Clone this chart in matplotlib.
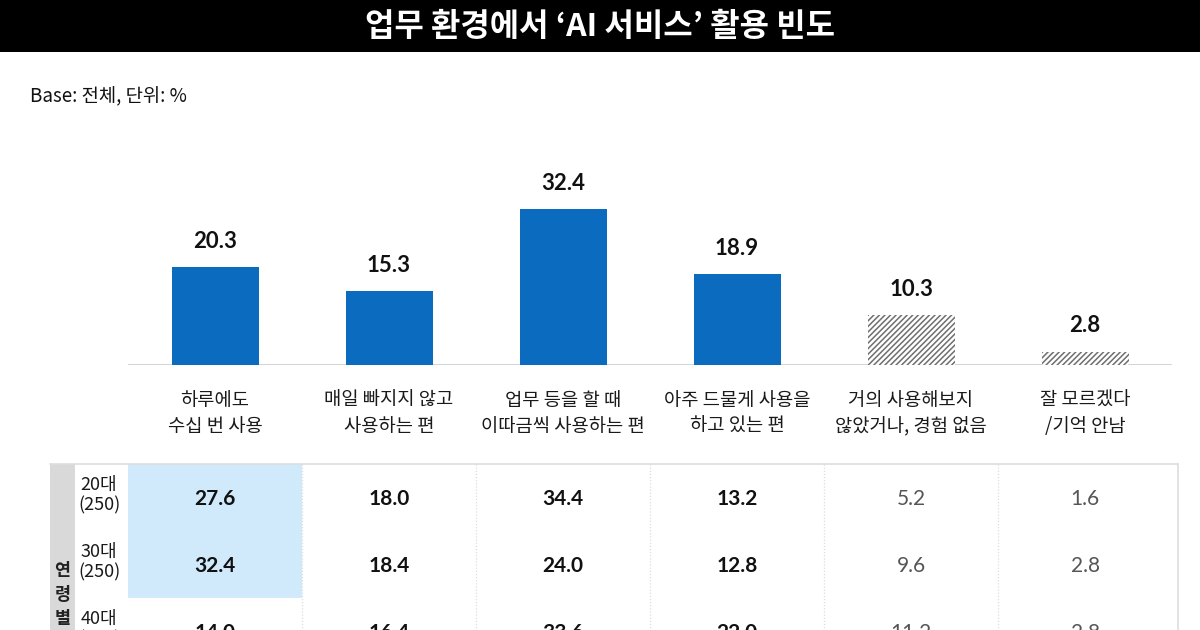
import matplotlib
matplotlib.use("Agg")
import matplotlib.pyplot as plt
import matplotlib.transforms as mtransforms
from matplotlib.patches import Rectangle

plt.rcParams['font.family'] = ['Noto Sans CJK KR', 'DejaVu Sans']
plt.rcParams['hatch.linewidth'] = 1.1

# ---------------- data ----------------
title = "업무 환경에서 ‘AI 서비스’ 활용 빈도"
subtitle = "Base: 전체, 단위: %"
categories = ["하루에도\n수십 번 사용", "매일 빠지지 않고\n사용하는 편", "업무 등을 할 때\n이따금씩 사용하는 편",
              "아주 드물게 사용을\n하고 있는 편", "거의 사용해보지\n않았거나, 경험 없음", "잘 모르겠다\n/기억 안남"]
totals = [20.3, 15.3, 32.4, 18.9, 10.3, 2.8]
hatched = [False, False, False, False, True, True]

group_title = "연령별"
age_labels = ["20대\n(250)", "30대\n(250)", "40대\n(250)"]
age_20s = [27.6, 18.0, 34.4, 13.2, 5.2, 1.6]
age_30s = [32.4, 18.4, 24.0, 12.8, 9.6, 2.8]
age_40s = [14.0, 16.4, 33.6, 22.0, 11.2, 2.8]
age_rows = [age_20s, age_30s, age_40s]
highlight = [(0, 0), (1, 0)]  # (row, col)

BLUE = "#0a6bbf"
LIGHT_BLUE = "#d0e9fb"
NUM_FONT = ['Lato', 'DejaVu Sans']

W, H = 1200, 630
fig = plt.figure(figsize=(12, 6.3), dpi=100)
fig.patch.set_facecolor("white")

def fx(px):
    return px / W

def fy(py):
    return 1 - py / H

# ---------------- title bar ----------------
fig.patches.append(Rectangle((0, fy(52)), 1, 52 / H, transform=fig.transFigure,
                             facecolor="black", edgecolor="none", zorder=0))
fig.text(0.5, fy(27), title, color="white", fontsize=23, fontweight="bold",
         ha="center", va="center")
fig.text(fx(30), fy(97), subtitle, color="#111", fontsize=13.5, ha="left", va="center")

# ---------------- bar chart ----------------
x0, x1 = 128, 1172
base_y = 365
px_per_unit = 4.82
ymax = 40
ax = fig.add_axes([fx(x0), fy(base_y), fx(x1 - x0), ymax * px_per_unit / H])
ax.set_xlim(-0.5, len(categories) - 0.5)
ax.set_ylim(0, ymax)
ax.axis("off")
ax.axhline(0, color="#cccccc", lw=1.2, zorder=1)

for i, (v, h) in enumerate(zip(totals, hatched)):
    if h:
        ax.bar(i, v, width=0.5, facecolor="white", edgecolor="#6f6f6f",
               hatch="//////", linewidth=0, zorder=2)
    else:
        ax.bar(i, v, width=0.5, color=BLUE, zorder=2)
    ax.annotate(f"{v:.1f}", (i, v), xytext=(0, 11), textcoords="offset points",
                ha="center", va="bottom", fontsize=16, fontweight="bold",
                family=NUM_FONT, color="#111")
    ax.annotate(categories[i], (i, 0), xytext=(0, -18), textcoords="offset points",
                ha="center", va="top", fontsize=13.5, fontweight="medium", color="#1a1a1a",
                linespacing=1.3, annotation_clip=False)

# ---------------- table ----------------
row_px = 67
tbl_top = 464
n_rows = len(age_rows)
tax = fig.add_axes([fx(x0), fy(tbl_top + n_rows * row_px), fx(x1 - x0), n_rows * row_px / H])
tax.set_xlim(-0.5, len(categories) - 0.5)
tax.set_ylim(n_rows, 0)
tax.axis("off")

blend = mtransforms.blended_transform_factory(fig.transFigure, tax.transData)

# highlighted cells
for (r, c) in highlight:
    tax.add_patch(Rectangle((c - 0.5, r), 1, 1, facecolor=LIGHT_BLUE, edgecolor="none", zorder=0))

# column separators
for c in range(len(categories) - 1):
    tax.plot([c + 0.5, c + 0.5], [0, n_rows], color="#dddddd", lw=0.9, ls=(0, (1, 1.5)),
             zorder=1, clip_on=False)

# top border & right border
tax.plot([fx(50), fx(1178)], [0, 0], color="#dddddd", lw=1.2, transform=blend, clip_on=False)
tax.plot([fx(1178), fx(1178)], [0, n_rows], color="#dddddd", lw=1.2, transform=blend, clip_on=False)

# gray group band
tax.add_patch(Rectangle((fx(50), 0), fx(25), n_rows, transform=blend,
                        facecolor="#d9d9d9", edgecolor="none", clip_on=False))
for k, ch in enumerate(group_title):
    tax.text(fx(62.5), 1.6 + k * 0.355, ch, transform=blend, ha="center", va="center",
             fontsize=12.5, fontweight="bold", color="#222", clip_on=False)

for r, (lab, vals) in enumerate(zip(age_labels, age_rows)):
    tax.text(fx(99), r + 0.47, lab, transform=blend, ha="center", va="center",
             fontsize=13, color="#1a1a1a", linespacing=1.15, clip_on=False)
    for c, v in enumerate(vals):
        dim = hatched[c]
        tax.text(c, r + 0.52, f"{v:.1f}", ha="center", va="center", fontsize=15,
                 family=NUM_FONT, fontweight="normal" if dim else "bold",
                 color="#555555" if dim else "#111111", clip_on=False)

fig.savefig("out.png", dpi=100)
